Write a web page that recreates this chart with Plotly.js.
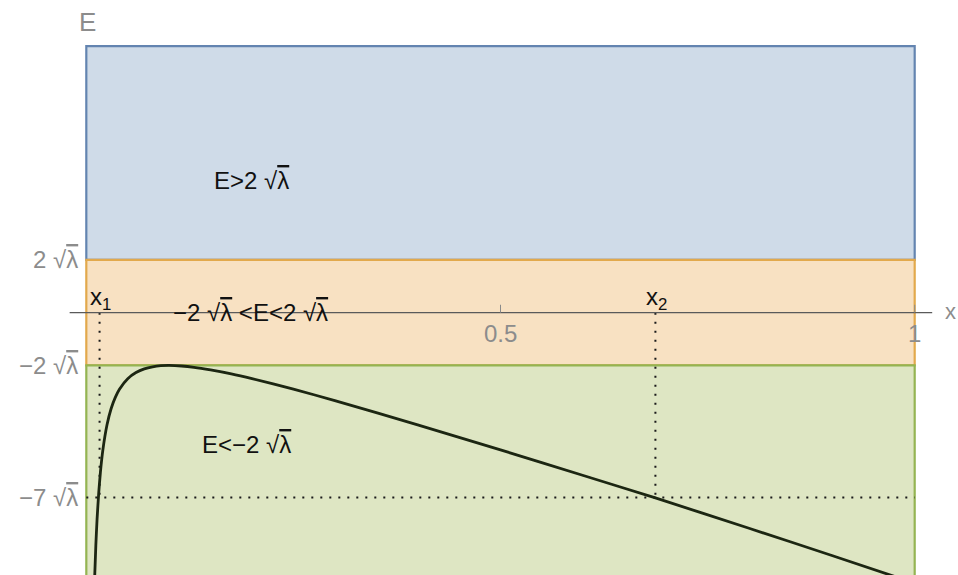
<!DOCTYPE html>
<html>
<head>
<meta charset="utf-8">
<script src="https://cdn.plot.ly/plotly-3.0.1.min.js"></script>
<style>
  html, body { margin: 0; padding: 0; background: #ffffff; }
  #chart { width: 958px; height: 575px; }
</style>
</head>
<body>
<div id="chart"></div>
<script>
// Energy curve E(x), in units of sqrt(lambda)
const curveX = [0.0100, 0.0115, 0.0130, 0.0150, 0.0170, 0.0200, 0.0250, 0.0300, 0.0350,
                0.0400, 0.0500, 0.0600, 0.0700, 0.0800, 0.0900, 0.1000, 0.1150, 0.1300,
                0.1500, 0.1750, 0.2000, 0.2500, 0.3000, 0.4000, 0.5000, 0.6000, 0.6870,
                0.8000, 0.9000, 1.0000];
const curveE = [-10.10, -8.81, -7.82, -6.82, -6.05, -5.20, -4.25, -3.63, -3.21,
                -2.90, -2.50, -2.27, -2.13, -2.05, -2.01, -2.00, -2.02, -2.07,
                -2.17, -2.32, -2.50, -2.90, -3.33, -4.25, -5.20, -6.17, -7.02,
                -8.17, -9.20, -10.25];

// Energy bands: lower and upper bounds, fill and edge colours
const bandLow   = [2, -2, -12];
const bandHigh  = [10.1, 2, -2];
const bandFill  = ['#cfdbe8', '#f8e1c2', '#dee6c3'];
const bandEdge  = ['#6384b0', '#e2a94c', '#94b452'];
const bandText  = ['E>2 √<span style="text-decoration:overline">λ</span>',
                   '−2 √<span style="text-decoration:overline">λ</span> <E<2 √<span style="text-decoration:overline">λ</span>',
                   'E<−2 √<span style="text-decoration:overline">λ</span>'];
const bandTextX = [0.199, 0.198, 0.193];
const bandTextE = [5.0, 0.0, -5.0];

// Turning points and the energy level that defines them
const turnX     = [0.016, 0.687];
const turnNames = ['x<sub>1</sub>', 'x<sub>2</sub>'];
const levelE    = -7;

// Axis ticks
const xTickVals   = [0.5, 1];
const xTickText   = ['0.5', '1'];
const yTickVals   = [2, -2, -7];
const yTickText   = ['2 √<span style="text-decoration:overline">λ</span>',
                     '−2 √<span style="text-decoration:overline">λ</span>',
                     '−7 √<span style="text-decoration:overline">λ</span>'];

const FONT = 'Arial, "Liberation Sans", sans-serif';
const shapes = [];
const annotations = [];
const traces = [];

// colour bands
for (let i = 0; i < bandLow.length; i++) {
  shapes.push({
    type: 'rect', xref: 'x', yref: 'y', layer: 'below',
    x0: 0, x1: 1, y0: bandLow[i], y1: bandHigh[i],
    fillcolor: bandFill[i],
    line: { color: bandEdge[i], width: 2.2 }
  });
  annotations.push({
    xref: 'x', yref: 'y', x: bandTextX[i], y: bandTextE[i],
    text: bandText[i], showarrow: false, xanchor: 'center', yanchor: 'middle',
    font: { family: FONT, size: 24, color: '#111111' }
  });
}

// horizontal axis through E = 0, running a little past the frame
shapes.push({
  type: 'line', xref: 'paper', yref: 'y', layer: 'above',
  x0: -0.016, x1: 1.017, y0: 0, y1: 0,
  line: { color: '#5a5a5a', width: 1.2 }
});
// small x ticks
for (let i = 0; i < xTickVals.length; i++) {
  shapes.push({
    type: 'line', xref: 'x', yref: 'y', layer: 'above',
    x0: xTickVals[i], x1: xTickVals[i], y0: 0, y1: 0.3,
    line: { color: '#8a8a8a', width: 1 }
  });
  annotations.push({
    xref: 'x', yref: 'y', x: xTickVals[i], y: 0, yshift: -21,
    text: xTickText[i], showarrow: false, xanchor: 'center', yanchor: 'middle',
    font: { family: FONT, size: 24, color: '#8c8c8c' }
  });
}
// y tick labels
for (let i = 0; i < yTickVals.length; i++) {
  annotations.push({
    xref: 'x', yref: 'y', x: 0, xshift: -6, y: yTickVals[i],
    text: yTickText[i], showarrow: false, xanchor: 'right', yanchor: 'middle',
    font: { family: FONT, size: 24, color: '#8c8c8c' }
  });
}
// axis names
annotations.push({
  xref: 'paper', yref: 'y', x: 1.0395, y: 0, text: 'x', showarrow: false,
  xanchor: 'center', yanchor: 'middle', yshift: 1,
  font: { family: FONT, size: 22, color: '#8c8c8c' }
});
annotations.push({
  xref: 'x', yref: 'paper', x: 0.002, y: 1, yshift: 22, text: 'E', showarrow: false,
  xanchor: 'center', yanchor: 'middle',
  font: { family: FONT, size: 26, color: '#8c8c8c' }
});

// dotted guides: level E = -7 and the two turning points
traces.push({
  x: [0, 1], y: [levelE, levelE], mode: 'lines', hoverinfo: 'skip',
  line: { color: '#1a1a1a', width: 2, dash: '2px,7px' }
});
for (let i = 0; i < turnX.length; i++) {
  traces.push({
    x: [turnX[i], turnX[i]], y: [0, levelE], mode: 'lines', hoverinfo: 'skip',
    line: { color: '#1a1a1a', width: 2, dash: '2px,7px' }
  });
  annotations.push({
    xref: 'x', yref: 'y', x: turnX[i], y: 0, yshift: 14, xshift: 1,
    text: turnNames[i], showarrow: false, xanchor: 'center', yanchor: 'middle',
    font: { family: FONT, size: 24, color: '#111111' }
  });
}

// the curve itself
traces.push({
  x: curveX, y: curveE, mode: 'lines', hoverinfo: 'skip',
  line: { color: '#1c2612', width: 2.8, shape: 'spline', smoothing: 0.6 }
});

const layout = {
  width: 958, height: 575,
  margin: { l: 83, r: 40, t: 44, b: 0, pad: 0 },
  paper_bgcolor: '#ffffff', plot_bgcolor: 'rgba(0,0,0,0)',
  showlegend: false,
  xaxis: { range: [-0.004, 1.004], showgrid: false, zeroline: false, showline: false,
           showticklabels: false, ticks: '', fixedrange: true },
  yaxis: { range: [-9.94, 10.18], showgrid: false, zeroline: false, showline: false,
           showticklabels: false, ticks: '', fixedrange: true },
  shapes: shapes,
  annotations: annotations
};

Plotly.newPlot('chart', traces, layout, { staticPlot: true, displayModeBar: false });
</script>
</body>
</html>
